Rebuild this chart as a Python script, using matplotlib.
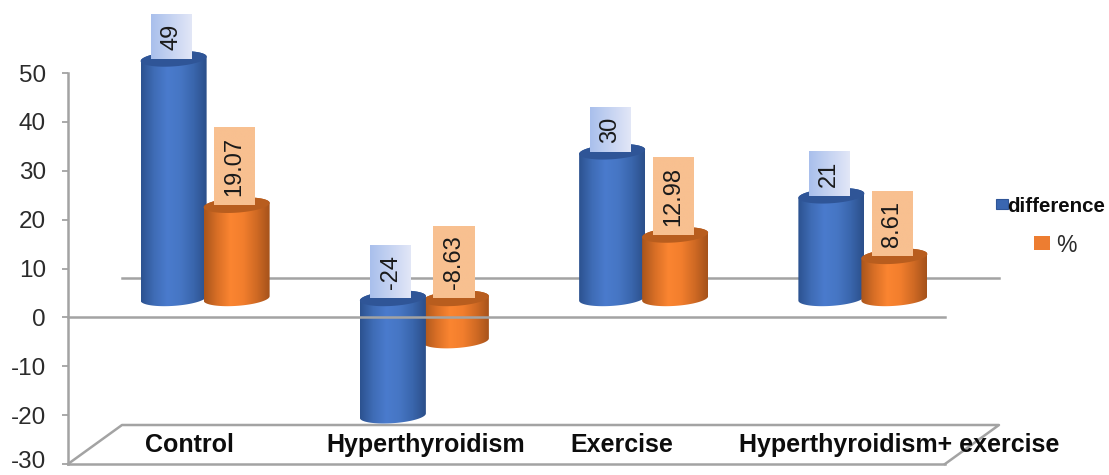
import matplotlib
matplotlib.use("Agg")
import matplotlib.pyplot as plt
from matplotlib.colors import LinearSegmentedColormap
from matplotlib.patches import Polygon, Rectangle
from matplotlib.transforms import ScaledTranslation
import numpy as np

plt.rcParams['font.family'] = ['Liberation Sans', 'DejaVu Sans']
plt.rcParams['axes.unicode_minus'] = False

categories = ['Control', 'Hyperthyroidism', 'Exercise', 'Hyperthyroidism+ exercise']
difference = [49, -24, 30, 21]
percent = [19.07, -8.63, 12.98, 8.61]
difference_labels = ['49', '-24', '30', '21']
percent_labels = ['19.07', '-8.63', '12.98', '8.61']
y_ticks = [-30, -20, -10, 0, 10, 20, 30, 40, 50]
# the category names are not centred under the groups in the original
label_shift = [0.055, 0.13, 0.025, 0.29]

W, H = 1109, 475
fig = plt.figure(figsize=(W / 100, H / 100), dpi=100)
ax = fig.add_axes([68 / W, 11 / H, 877 / W, 391 / H])
ax.patch.set_visible(False)
ax.set_xlim(-0.5, 3.5)
ax.set_ylim(-30, 50)

# one pixel in data units
px_x = 4 / 877
px_y = 80 / 391

GREY = '#a3a3a3'
depth_x = 54 * px_x
depth_y = 39 * px_y
bar_dx = 27.5 * px_x
bar_dy = 19 * px_y
half_w = 33 * px_x
half_h = 7.5 * px_y
tilt = 2.2 * px_y
group_gap = 31.5 * px_x

blue_map = LinearSegmentedColormap.from_list('b', ['#2c5290', '#3f6cb6', '#4a7bcd', '#4676c4', '#3a66ad', '#2b4f8a'])
orange_map = LinearSegmentedColormap.from_list('o', ['#a9551c', '#d96f26', '#fb8531', '#f27e2d', '#d06a24', '#a5521b'])
blue_box = LinearSegmentedColormap.from_list('bb', ['#a9bfec', '#e2e7f7'])
orange_box = LinearSegmentedColormap.from_list('ob', ['#f8c090', '#f8c090'])
ramp = np.linspace(0, 1, 128).reshape(1, -1)

renderer = fig.canvas.get_renderer()


def draw_cylinder(xc, value, cmap, top_color, z):
    lower = bar_dy + min(value, 0)
    upper = bar_dy + max(value, 0)
    t = np.linspace(0, np.pi, 60)
    # lower arc of the bottom end, then upper arc of the top end
    low_x = xc - half_w * np.cos(t)
    low_y = lower - half_h * np.sin(t) + tilt * (low_x - xc) / half_w
    up_x = xc + half_w * np.cos(t)
    up_y = upper + half_h * np.sin(t) + tilt * (up_x - xc) / half_w
    side = Polygon(np.column_stack([np.r_[low_x, up_x], np.r_[low_y, up_y]]),
                   closed=True, facecolor='none', edgecolor='none', zorder=z)
    ax.add_patch(side)
    im = ax.imshow(ramp, cmap=cmap, aspect='auto', zorder=z, interpolation='bilinear',
                   extent=[xc - half_w, xc + half_w, lower - 5, upper + 5])
    im.set_clip_box(fig.bbox)
    im.set_clip_path(side)
    # top end of the cylinder
    a = np.linspace(0, 2 * np.pi, 120)
    ex = xc + half_w * np.cos(a)
    ey = upper + half_h * np.sin(a) + tilt * np.cos(a)
    ax.add_patch(Polygon(np.column_stack([ex, ey]), closed=True, facecolor=top_color,
                         edgecolor='none', zorder=z + 0.1, clip_on=False))
    ax.set_xlim(-0.5, 3.5)
    ax.set_ylim(-30, 50)


def draw_label(xc, value, text, cmap):
    bottom = bar_dy + max(value, 0)
    pad = 9 * px_y
    t = ax.text(xc - 2 * px_x, bottom + pad, text, rotation=90, ha='center', va='bottom',
                fontsize=17, color='#1a1a1a', zorder=21, clip_on=False)
    top = ax.transData.inverted().transform(t.get_window_extent(renderer))[1][1] + pad
    w = 20.5 * px_x
    ax.imshow(ramp, cmap=cmap, aspect='auto', zorder=20, clip_on=False, interpolation='bilinear',
              extent=[xc - 2 * px_x - w, xc - 2 * px_x + w, bottom, top])
    ax.set_xlim(-0.5, 3.5)
    ax.set_ylim(-30, 50)


# floor and back wall zero line, behind the bars
ax.plot([-0.5, -0.5 + depth_x, 3.5 + depth_x, 3.5], [-30, -30 + depth_y, -30 + depth_y, -30],
        color=GREY, lw=1.8, zorder=1, clip_on=False)
ax.plot([-0.5 + depth_x, 3.5 + depth_x], [depth_y, depth_y], color=GREY, lw=1.8, zorder=1, clip_on=False)

for i in range(len(categories)):
    xb = i + bar_dx - group_gap
    xo = i + bar_dx + group_gap
    # the lower column sits in front of the higher one
    zb, zo = (3, 5) if difference[i] > 0 else (5, 3)
    draw_cylinder(xb, difference[i], blue_map, '#2f5597', zb)
    draw_cylinder(xo, percent[i], orange_map, '#b85d1e', zo)
    draw_label(xb, difference[i], difference_labels[i], blue_box)
    draw_label(xo, percent[i], percent_labels[i], orange_box)
    ax.text(i + label_shift[i], -26.2, categories[i], ha='center', va='center',
            fontsize=18, fontweight='bold', color='#0d0d0d', zorder=22, clip_on=False)

# front zero line goes over the bars
ax.plot([-0.5, 3.5], [0, 0], color=GREY, lw=1.8, zorder=15, clip_on=False)

ax.set_xticks([])
ax.set_yticks(y_ticks)
ax.tick_params(axis='y', length=4.5, width=1.3, color=GREY, labelsize=17.5, labelcolor='#2b2b2b', pad=11.5)
for lab in ax.get_yticklabels():
    lab.set_verticalalignment('center_baseline')
# lowest label would run off the bottom edge
low = ax.get_yticklabels()[0]
low.set_transform(low.get_transform() + ScaledTranslation(0, 3 / 72, fig.dpi_scale_trans))
for s in ['top', 'right']:
    ax.spines[s].set_visible(False)
for s in ['left', 'bottom']:
    ax.spines[s].set_color(GREY)
    ax.spines[s].set_linewidth(1.8)

# legend is placed by hand, the entries are not aligned in the original
fig.add_artist(Rectangle((996 / W, 1 - 209 / H), 12 / W, 10 / H, transform=fig.transFigure,
                         facecolor='#3a66b0', edgecolor='#2f5597', lw=0.8))
fig.add_artist(Rectangle((1034 / W, 1 - 250 / H), 16 / W, 14 / H, transform=fig.transFigure,
                         facecolor='#ed7d31', edgecolor='none'))
fig.text(1007 / W, 1 - 207 / H, 'difference', fontsize=14.8, fontweight='bold', color='#0d0d0d',
         ha='left', va='center')
fig.text(1056 / W, 1 - 245 / H, '%', fontsize=16.5, color='#2b2b2b', ha='left', va='center')

fig.savefig('out.png', dpi=100)
